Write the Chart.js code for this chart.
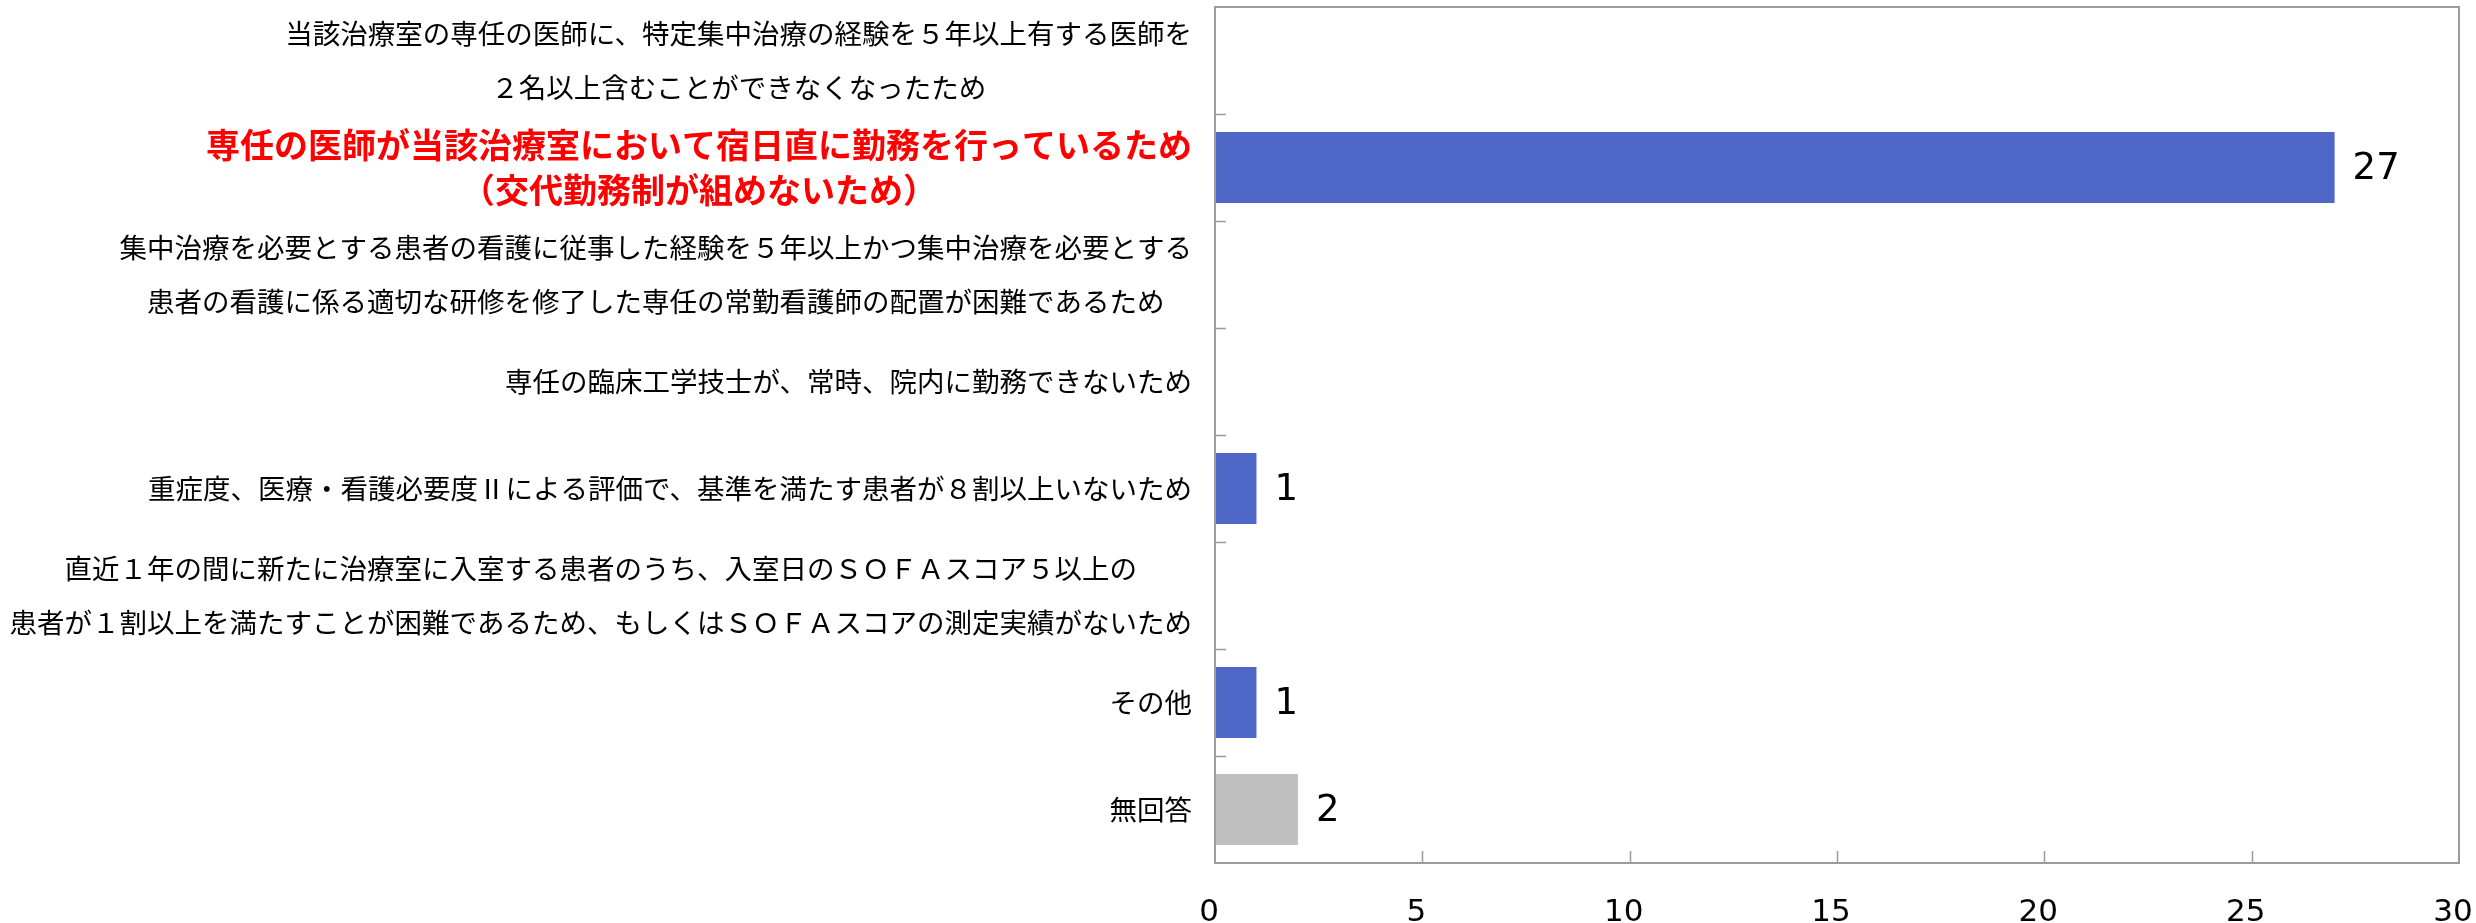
<!DOCTYPE html>
<html lang="ja">
<head>
<meta charset="utf-8">
<title>chart</title>
<script src="https://cdn.jsdelivr.net/npm/chart.js@4.4.1/dist/chart.umd.min.js"></script>
<style>
    html, body { margin: 0; padding: 0; background: #fff; }
    #wrap { width: 2476px; height: 923px; position: relative; }
</style>
</head>
<body>
<div id="wrap"><canvas id="reasonChart"></canvas></div>
<script>
// Categories (each one is a list of lines, as in the picture)
const categories = [
    ['当該治療室の専任の医師に、特定集中治療の経験を５年以上有する医師を', '２名以上含むことができなくなったため'],
    ['専任の医師が当該治療室において宿日直に勤務を行っているため', '（交代勤務制が組めないため）'],
    ['集中治療を必要とする患者の看護に従事した経験を５年以上かつ集中治療を必要とする', '患者の看護に係る適切な研修を修了した専任の常勤看護師の配置が困難であるため'],
    ['専任の臨床工学技士が、常時、院内に勤務できないため'],
    ['重症度、医療・看護必要度Ⅱによる評価で、基準を満たす患者が８割以上いないため'],
    ['直近１年の間に新たに治療室に入室する患者のうち、入室日のＳＯＦＡスコア５以上の', '患者が１割以上を満たすことが困難であるため、もしくはＳＯＦＡスコアの測定実績がないため'],
    ['その他'],
    ['無回答']
];
const counts = [0, 27, 0, 0, 1, 0, 1, 2];
const xTickValues = [0, 5, 10, 15, 20, 25, 30];
const highlighted = [1];          // category shown in red bold
const noAnswerLabel = '無回答';

const BLUE = '#4f68c8';
const GREY = '#bfbfbf';
const AXIS = '#9c9c9c';

// Draws the frame, inward ticks, value labels and category labels
const decorations = {
    id: 'decorations',
    afterDatasetsDraw(chart) {
        const ctx = chart.ctx;
        const area = chart.chartArea;
        const xs = chart.scales.x;
        const ys = chart.scales.y;
        ctx.save();

        // frame
        ctx.strokeStyle = AXIS;
        ctx.lineWidth = 2;
        ctx.strokeRect(area.left, area.top, area.right - area.left, area.bottom - area.top);

        // inward ticks on the x axis
        ctx.lineWidth = 1.5;
        ctx.beginPath();
        xTickValues.slice(1, -1).forEach(v => {
            const x = Math.round(xs.getPixelForValue(v)) + 0.5;
            ctx.moveTo(x, area.bottom);
            ctx.lineTo(x, area.bottom - 12);
        });
        // inward ticks on the category axis (between categories)
        for (let i = 0; i < categories.length - 1; i++) {
            const y = Math.round((ys.getPixelForValue(i) + ys.getPixelForValue(i + 1)) / 2) + 0.5;
            ctx.moveTo(area.left, y);
            ctx.lineTo(area.left + 11, y);
        }
        ctx.stroke();

        // value labels
        const meta = chart.getDatasetMeta(0);
        ctx.fillStyle = '#000';
        ctx.font = '37px "DejaVu Sans"';
        ctx.textAlign = 'left';
        ctx.textBaseline = 'middle';
        meta.data.forEach((bar, i) => {
            if (!counts[i]) return;
            ctx.fillText(String(counts[i]), bar.x + 18, bar.y + 2);
        });

        // category labels: each block right aligned, lines centred inside the block
        const rightEdge = area.left - 23;
        categories.forEach((lines, i) => {
            const isHot = highlighted.includes(i);
            ctx.font = isHot ? 'bold 34px "Noto Sans CJK JP"' : '27.5px "Noto Sans CJK JP"';
            ctx.fillStyle = isHot ? '#ff0000' : '#000';
            const lineH = isHot ? 45 : 54;
            const widest = Math.max(...lines.map(l => ctx.measureText(l).width));
            const cx = rightEdge - widest / 2;
            const cy = ys.getPixelForValue(i);
            ctx.textAlign = 'center';
            lines.forEach((line, k) => {
                const y = cy + (k - (lines.length - 1) / 2) * lineH;
                ctx.fillText(line, cx, y);
            });
        });

        ctx.restore();
    }
};

const chart = new Chart(document.getElementById('reasonChart'), {
    type: 'bar',
    data: {
        labels: categories,
        datasets: [{
            data: counts,
            backgroundColor: ctx => (categories[ctx.index] || [])[0] === noAnswerLabel ? GREY : BLUE,
            borderWidth: 0,
            categoryPercentage: 1,
            barPercentage: 0.664
        }]
    },
    plugins: [decorations],
    options: {
        indexAxis: 'y',
        responsive: true,
        maintainAspectRatio: false,
        animation: false,
        layout: { padding: { top: 7, right: 17, left: 0, bottom: 0 } },
        plugins: {
            legend: { display: false },
            tooltip: { enabled: false }
        },
        scales: {
            x: {
                min: xTickValues[0],
                max: xTickValues[xTickValues.length - 1],
                afterBuildTicks: scale => {
                    scale.ticks = xTickValues.map(v => ({ value: v }));
                },
                afterFit: scale => {
                    scale.height = 60;
                    scale.paddingLeft = 0;
                    scale.paddingRight = 0;
                },
                grid: { display: false, drawTicks: false },
                border: { display: false },
                ticks: {
                    color: '#000',
                    padding: 31,
                    labelOffset: -6,
                    font: { family: 'DejaVu Sans', size: 31 }
                }
            },
            y: {
                afterFit: scale => { scale.width = 1215; },
                grid: { display: false, drawTicks: false },
                border: { display: false },
                ticks: { display: false }
            }
        }
    }
});
</script>
</body>
</html>
